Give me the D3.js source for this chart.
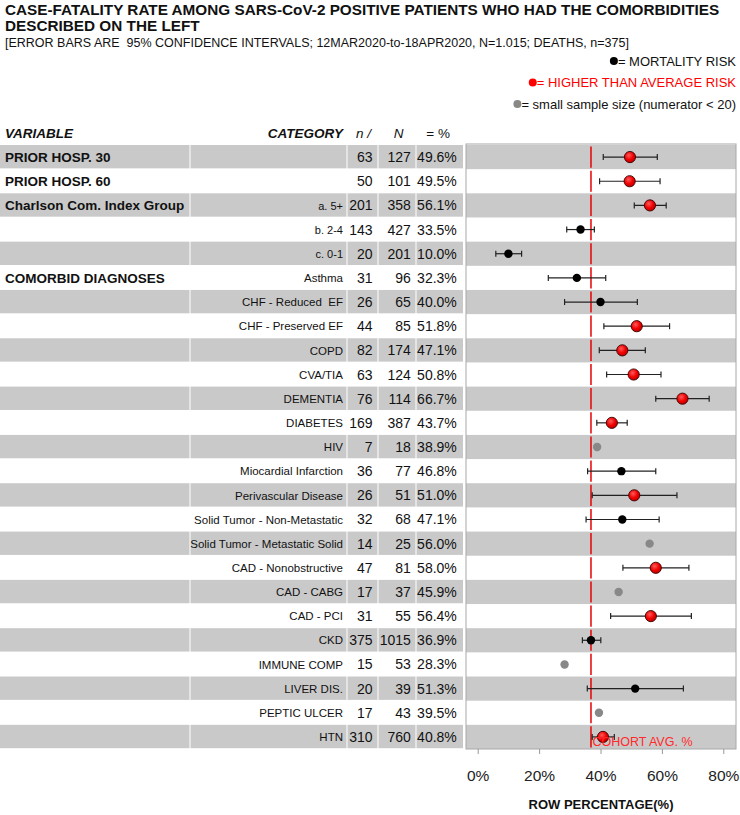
<!DOCTYPE html>
<html>
<head>
<meta charset="utf-8">
<script src="https://cdn.jsdelivr.net/npm/d3@7"></script>
<style>
  html, body { margin: 0; padding: 0; background: #fff; }
  svg { display: block; font-family: "Liberation Sans", Arial, Helvetica, sans-serif; }
  text { white-space: pre; }
</style>
</head>
<body>
<svg id="chart" width="740" height="815"></svg>
<script>
// ---------------- DATA ----------------
const variables = ["PRIOR HOSP. 30", "PRIOR HOSP. 60", "Charlson Com. Index Group", "", "",
  "COMORBID DIAGNOSES", "", "", "", "", "", "", "", "", "", "", "", "", "", "", "", "", "", "", ""];
const categories = ["", "", "a. 5+", "b. 2-4", "c. 0-1",
  "Asthma", "CHF - Reduced  EF", "CHF - Preserved EF", "COPD", "CVA/TIA", "DEMENTIA", "DIABETES", "HIV",
  "Miocardial Infarction", "Perivascular Disease", "Solid Tumor - Non-Metastatic", "Solid Tumor - Metastatic Solid",
  "CAD - Nonobstructive", "CAD - CABG", "CAD - PCI", "CKD", "IMMUNE COMP", "LIVER DIS.", "PEPTIC ULCER", "HTN"];
const deaths = [63, 50, 201, 143, 20, 31, 26, 44, 82, 63, 76, 169, 7, 36, 26, 32, 14, 47, 17, 31, 375, 15, 20, 17, 310];
const totals = [127, 101, 358, 427, 201, 96, 65, 85, 174, 124, 114, 387, 18, 77, 51, 68, 25, 81, 37, 55, 1015, 53, 39, 43, 760];
const pctLabels = ["49.6%", "49.5%", "56.1%", "33.5%", "10.0%", "32.3%", "40.0%", "51.8%", "47.1%", "50.8%", "66.7%",
  "43.7%", "38.9%", "46.8%", "51.0%", "47.1%", "56.0%", "58.0%", "45.9%", "56.4%", "36.9%", "28.3%", "51.3%", "39.5%", "40.8%"];
const pct = [49.6, 49.5, 56.1, 33.5, 10.0, 32.3, 40.0, 51.8, 47.1, 50.8, 66.7, 43.7, 38.9, 46.8, 51.0, 47.1, 56.0,
  58.0, 45.9, 56.4, 36.9, 28.3, 51.3, 39.5, 40.8];
// 95% CI (null = not shown, small sample)
const ciLow  = [40.9, 39.7, 51.0, 29.0, 5.9, 23.0, 28.3, 41.1, 39.6, 42.0, 58.0, 38.8, null, 35.8, 37.3, 35.3, null,
  47.3, null, 43.3, 34.1, null, 35.7, null, 37.3];
const ciHigh = [58.5, 59.4, 61.4, 38.0, 14.3, 41.7, 52.0, 62.5, 54.6, 59.7, 75.4, 48.7, null, 58.0, 64.9, 59.1, null,
  68.8, null, 69.6, 40.1, null, 67.0, null, 44.5];
const cohortAvg = 36.9;
const xTicks = [0, 20, 40, 60, 80];
const xTickLabels = ["0%", "20%", "40%", "60%", "80%"];

const titleLines = ["CASE-FATALITY RATE AMONG SARS-CoV-2 POSITIVE PATIENTS WHO HAD THE COMORBIDITIES",
  "DESCRIBED ON THE LEFT"];
const subtitle = "[ERROR BARS ARE  95% CONFIDENCE INTERVALS; 12MAR2020-to-18APR2020, N=1.015; DEATHS, n=375]";
const legendItems = [
  {label: "= MORTALITY RISK", dot: "#000", text: "#111"},
  {label: "= HIGHER THAN AVERAGE RISK", dot: "#f00", text: "#f00"},
  {label: "= small sample size (numerator < 20)", dot: "#888", text: "#111"}
];

// ---------------- LAYOUT ----------------
const svg = d3.select("#chart");
const rows = d3.range(categories.length);
const y = d3.scaleBand().domain(rows).range([145, 749]);
const panel = {x0: 466, x1: 736, y0: 144, y1: 749};
const x = d3.scaleLinear().domain([0, 80]).range([477.7, 723.3]);
const GRAY = "#c9c9c9";

// defs: gradient for red points
const defs = svg.append("defs");
const grad = defs.append("radialGradient").attr("id", "redg").attr("cx", "40%").attr("cy", "35%").attr("r", "65%");
grad.append("stop").attr("offset", "0%").attr("stop-color", "#ff5a5a");
grad.append("stop").attr("offset", "60%").attr("stop-color", "#f00000");
grad.append("stop").attr("offset", "100%").attr("stop-color", "#c00000");

// Title
svg.append("g").selectAll("text").data(titleLines).join("text")
  .attr("x", 5).attr("y", (d, i) => 14.5 + i * 16)
  .attr("font-size", 15.3).attr("font-weight", "bold").attr("fill", "#111").text(d => d);
svg.append("text").attr("x", 5).attr("y", 47).attr("font-size", 12.5).attr("fill", "#111").text(subtitle);

// Legend
const legG = svg.append("g");
legendItems.forEach((d, i) => {
  const t = legG.append("text").attr("x", 736).attr("y", 65.6 + i * 21.5).attr("text-anchor", "end")
    .attr("font-size", 13).attr("fill", d.text).text(d.label);
  const w = t.node().getComputedTextLength();
  legG.append("circle").attr("cx", 736 - w - 4).attr("cy", 61 + i * 21.5).attr("r", 4).attr("fill", d.dot);
});

// Table header
const hdrY = 137.5;
svg.append("text").attr("x", 5).attr("y", hdrY).attr("font-size", 13.5).attr("font-weight", "bold")
  .attr("font-style", "italic").attr("fill", "#111").text("VARIABLE");
svg.append("text").attr("x", 343).attr("y", hdrY).attr("text-anchor", "end").attr("font-size", 13.5)
  .attr("font-weight", "bold").attr("font-style", "italic").attr("fill", "#111").text("CATEGORY");
svg.append("text").attr("x", 371).attr("y", hdrY).attr("text-anchor", "end").attr("font-size", 13.5)
  .attr("font-style", "italic").attr("fill", "#111").text("n /");
svg.append("text").attr("x", 398.5).attr("y", hdrY).attr("text-anchor", "middle").attr("font-size", 13.5)
  .attr("font-style", "italic").attr("fill", "#111").text("N");
svg.append("text").attr("x", 450).attr("y", hdrY).attr("text-anchor", "end").attr("font-size", 13.5)
  .attr("fill", "#111").text("= %");

// Table rows background
const tbl = svg.append("g");
tbl.selectAll("rect.bg").data(rows.filter(i => i % 2 === 0)).join("rect")
  .attr("x", 0).attr("width", 463).attr("y", i => y(i)).attr("height", y.bandwidth() - 0.8)
  .attr("fill", GRAY);
// vertical separators
[190, 347, 378, 416].forEach(sx => {
  tbl.append("line").attr("x1", sx).attr("x2", sx).attr("y1", 145).attr("y2", 749)
    .attr("stroke", "#fff").attr("stroke-width", 1);
});

const cy = i => y(i) + y.bandwidth() / 2;
// Variable labels
tbl.selectAll("text.var").data(rows.filter(i => variables[i])).join("text")
  .attr("x", 5).attr("y", i => cy(i) + 5).attr("font-size", 13.5).attr("font-weight", "bold")
  .attr("fill", "#111").text(i => variables[i]);
// Category labels
tbl.selectAll("text.cat").data(rows.filter(i => categories[i])).join("text")
  .attr("x", 343).attr("y", i => cy(i) + 4.2).attr("text-anchor", "end")
  .attr("font-size", i => (i >= 2 && i <= 4) ? 11 : 11.5).attr("fill", "#111").text(i => categories[i]);
// numbers
tbl.selectAll("text.n").data(rows).join("text")
  .attr("x", 372.5).attr("y", i => cy(i) + 5).attr("text-anchor", "end").attr("font-size", 14)
  .attr("fill", "#111").text(i => deaths[i]);
tbl.selectAll("text.N").data(rows).join("text")
  .attr("x", 410.8).attr("y", i => cy(i) + 5).attr("text-anchor", "end").attr("font-size", 14)
  .attr("fill", "#111").text(i => totals[i]);
tbl.selectAll("text.p").data(rows).join("text")
  .attr("x", 456.8).attr("y", i => cy(i) + 5).attr("text-anchor", "end").attr("font-size", 14)
  .attr("fill", "#111").text(i => pctLabels[i]);

// Plot panel
const pl = svg.append("g");
pl.append("rect").attr("x", panel.x0).attr("y", panel.y0).attr("width", panel.x1 - panel.x0)
  .attr("height", panel.y1 - panel.y0).attr("fill", "#fff");
pl.selectAll("rect.bg").data(rows.filter(i => i % 2 === 0)).join("rect")
  .attr("x", panel.x0).attr("width", panel.x1 - panel.x0).attr("y", i => y(i)).attr("height", y.bandwidth())
  .attr("fill", GRAY);

// cohort avg line, segmented per row
pl.selectAll("line.avg").data(rows).join("line")
  .attr("x1", x(cohortAvg)).attr("x2", x(cohortAvg))
  .attr("y1", i => y(i) + 1.5).attr("y2", i => y(i) + y.bandwidth() - 1.5)
  .attr("stroke", "#e80000").attr("stroke-width", 1.5);

// error bars
const withCI = rows.filter(i => ciLow[i] != null);
pl.selectAll("line.ci").data(withCI).join("line")
  .attr("x1", i => x(ciLow[i])).attr("x2", i => x(ciHigh[i]))
  .attr("y1", cy).attr("y2", cy).attr("stroke", "#222").attr("stroke-width", 1.2);
pl.selectAll("line.capL").data(withCI).join("line")
  .attr("x1", i => x(ciLow[i])).attr("x2", i => x(ciLow[i]))
  .attr("y1", i => cy(i) - 3).attr("y2", i => cy(i) + 3).attr("stroke", "#222").attr("stroke-width", 1.2);
pl.selectAll("line.capH").data(withCI).join("line")
  .attr("x1", i => x(ciHigh[i])).attr("x2", i => x(ciHigh[i]))
  .attr("y1", i => cy(i) - 3).attr("y2", i => cy(i) + 3).attr("stroke", "#222").attr("stroke-width", 1.2);

// points
const kind = i => deaths[i] < 20 ? "small" : (ciLow[i] > cohortAvg ? "high" : "norm");
pl.selectAll("circle.pt").data(rows).join("circle")
  .attr("cx", i => x(pct[i])).attr("cy", cy)
  .attr("r", i => kind(i) === "high" ? 5.6 : 4.2)
  .attr("fill", i => kind(i) === "high" ? "url(#redg)" : (kind(i) === "small" ? "#888" : "#000"))
  .attr("stroke", i => kind(i) === "high" ? "#3a0000" : "none")
  .attr("stroke-width", 0.9);

// cohort label
pl.append("text").attr("x", x(cohortAvg) + 1.5).attr("y", 746).attr("font-size", 12.5)
  .attr("fill", "#ff2a2a").text("COHORT AVG. %");

// panel border
pl.append("rect").attr("x", panel.x0).attr("y", panel.y0).attr("width", panel.x1 - panel.x0)
  .attr("height", panel.y1 - panel.y0).attr("fill", "none").attr("stroke", "#a8a8a8").attr("stroke-width", 1);

// x axis
const axis = d3.axisBottom(x).tickValues(xTicks).tickSize(5).tickPadding(16)
  .tickFormat((d, i) => xTickLabels[i]);
const axG = svg.append("g").attr("transform", `translate(0,${panel.y1})`).call(axis);
axG.select(".domain").remove();
axG.selectAll(".tick line").attr("stroke", "#999");
axG.selectAll(".tick text").attr("font-size", 15.5).attr("fill", "#222")
  .attr("font-family", "'Liberation Sans', Arial, sans-serif");

svg.append("text").attr("x", (panel.x0 + panel.x1) / 2).attr("y", 809).attr("text-anchor", "middle")
  .attr("font-size", 13).attr("font-weight", "bold").attr("fill", "#111").text("ROW PERCENTAGE(%)");
</script>
</body>
</html>
